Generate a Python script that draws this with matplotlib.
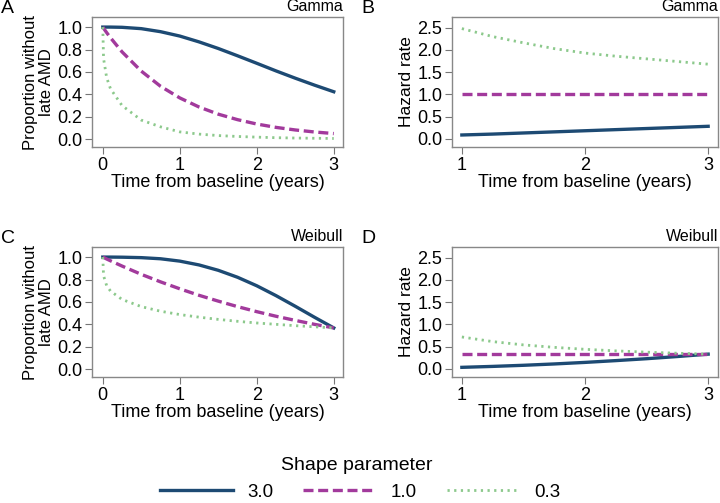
import matplotlib
matplotlib.use('Agg')
import matplotlib.pyplot as plt

plt.rcParams['font.family'] = ['Liberation Sans', 'DejaVu Sans']

# survival curves
t_surv = [0, 0.01, 0.05, 0.1, 0.25, 0.5, 0.75, 1.0, 1.25, 1.5, 1.75, 2.0, 2.25, 2.5, 2.75, 3.0]
gamma_surv = {
    '3.0': [1.0, 1.0, 1.0, 1.0, 0.998, 0.986, 0.959, 0.92, 0.868, 0.809, 0.744, 0.677, 0.609, 0.544, 0.482, 0.423],
    '1.0': [1.0, 0.99, 0.951, 0.905, 0.779, 0.607, 0.472, 0.368, 0.287, 0.223, 0.174, 0.135, 0.105, 0.082, 0.064, 0.05],
    '0.3': [1.0, 0.72, 0.55, 0.45, 0.3, 0.17, 0.11, 0.065, 0.045, 0.032, 0.024, 0.018, 0.013, 0.01, 0.008, 0.006],
}
weibull_surv = {
    '3.0': [1.0, 1.0, 1.0, 1.0, 0.999, 0.995, 0.985, 0.964, 0.93, 0.882, 0.82, 0.744, 0.656, 0.561, 0.463, 0.368],
    '1.0': [1.0, 0.997, 0.983, 0.967, 0.92, 0.846, 0.779, 0.717, 0.659, 0.607, 0.558, 0.513, 0.472, 0.435, 0.4, 0.368],
    '0.3': [1.0, 0.834, 0.746, 0.697, 0.622, 0.558, 0.517, 0.487, 0.464, 0.444, 0.427, 0.412, 0.4, 0.388, 0.378, 0.368],
}

# hazard curves
t_haz = [1.0, 1.25, 1.5, 1.75, 2.0, 2.25, 2.5, 2.75, 3.0]
gamma_haz = {
    '3.0': [0.09, 0.11, 0.135, 0.16, 0.185, 0.21, 0.235, 0.26, 0.285],
    '1.0': [1.0, 1.0, 1.0, 1.0, 1.0, 1.0, 1.0, 1.0, 1.0],
    '0.3': [2.48, 2.3, 2.16, 2.03, 1.93, 1.86, 1.8, 1.74, 1.68],
}
weibull_haz = {
    '3.0': [0.037, 0.058, 0.083, 0.113, 0.148, 0.188, 0.231, 0.28, 0.333],
    '1.0': [0.333, 0.333, 0.333, 0.333, 0.333, 0.333, 0.333, 0.333, 0.333],
    '0.3': [0.719, 0.615, 0.541, 0.486, 0.442, 0.407, 0.378, 0.354, 0.333],
}

shapes = ['3.0', '1.0', '0.3']
styles = {
    '3.0': dict(color='#1d4a73', ls='-', lw=2.4),
    '1.0': dict(color='#a23a9c', ls=(0, (3, 1.4)), lw=2.4),
    '0.3': dict(color='#8cc98c', ls=(0, (0.8, 1.6)), lw=2.0),
}

fig = plt.figure(figsize=(7.2, 5.03), dpi=100)
W, H = 720, 503

def make_ax(left, right, top, bottom):
    return fig.add_axes([left / W, 1 - bottom / H, (right - left) / W, (bottom - top) / H])

panels = [
    ('A', 'Gamma', make_ax(92, 343, 17, 147), t_surv, gamma_surv, 'surv'),
    ('B', 'Gamma', make_ax(452, 718, 17, 147), t_haz, gamma_haz, 'haz'),
    ('C', 'Weibull', make_ax(92, 343, 247, 377), t_surv, weibull_surv, 'surv'),
    ('D', 'Weibull', make_ax(452, 718, 247, 377), t_haz, weibull_haz, 'haz'),
]

for letter, dist, ax, t, data, kind in panels:
    for s in shapes:
        ax.plot(t, data[s], label=s, **styles[s])
    if kind == 'surv':
        ax.set_xlim(-0.14, 3.12)
        ax.set_ylim(-0.07, 1.09)
        ax.set_xticks([0, 1, 2, 3])
        ax.set_yticks([0, 0.2, 0.4, 0.6, 0.8, 1.0])
        ax.set_yticklabels(['0.0', '0.2', '0.4', '0.6', '0.8', '1.0'])
        ax.set_ylabel('Proportion without\nlate AMD', fontsize=12, linespacing=1.15, labelpad=2)
    else:
        ax.set_xlim(0.92, 3.08)
        ax.set_ylim(-0.18, 2.74)
        ax.set_xticks([1, 2, 3])
        ax.set_yticks([0, 0.5, 1.0, 1.5, 2.0, 2.5])
        ax.set_yticklabels(['0.0', '0.5', '1.0', '1.5', '2.0', '2.5'])
        ax.set_ylabel('Hazard rate', fontsize=12.5, labelpad=2)
    ax.set_xlabel('Time from baseline (years)', fontsize=13, labelpad=0)
    ax.tick_params(labelsize=13, direction='out', length=5, color='#777777', pad=2)
    for sp in ax.spines.values():
        sp.set_color('#888888')
        sp.set_linewidth(1.0)
    ax.text(1.0, 1.02, dist, transform=ax.transAxes, ha='right', va='bottom', fontsize=11.5)
    bb = ax.get_position()
    fig.text(bb.x0 - 91 / W, bb.y1 + 0 / H, letter, fontsize=14, va='bottom', ha='left')

# legend at the bottom, title placed on its own
fig.text(357 / W, 1 - 466 / H, 'Shape parameter', fontsize=14, ha='center', va='center')
handles, labels = panels[0][2].get_legend_handles_labels()
fig.legend(handles, labels, loc='center', bbox_to_anchor=(0.5, 1 - 492 / H), ncol=3,
           frameon=False, fontsize=13.5, borderpad=0,
           handlelength=3.9, columnspacing=1.6, handletextpad=0.75)

fig.savefig('out.png', dpi=100)
